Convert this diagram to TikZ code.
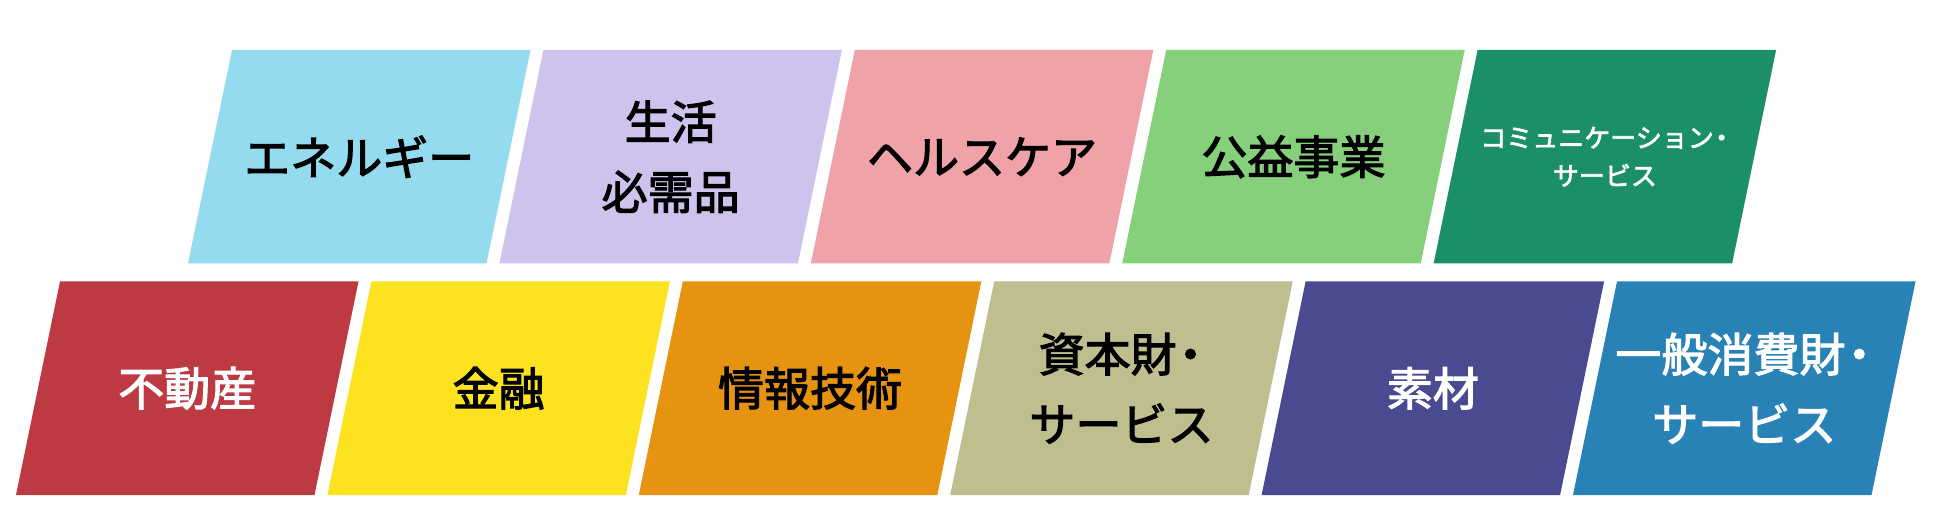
\documentclass[tikz,border=0pt]{standalone}
\usepackage{fontspec}
\setmainfont{Noto Sans CJK JP}[RawFeature={embolden=2.5}]
\definecolor{cEnergy}{HTML}{95DBEF}
\definecolor{cStaples}{HTML}{CDC3EC}
\definecolor{cHealth}{HTML}{EFA3A8}
\definecolor{cUtil}{HTML}{86D07C}
\definecolor{cComm}{HTML}{1B9066}
\definecolor{cReal}{HTML}{BE3A43}
\definecolor{cFin}{HTML}{FDE21F}
\definecolor{cIT}{HTML}{E59311}
\definecolor{cInd}{HTML}{BFBE8E}
\definecolor{cMat}{HTML}{4A4A90}
\definecolor{cDisc}{HTML}{2882B5}
\newcommand\nakaguro{\makebox[0.6em]{・}}
\tikzset{
  lbl/.style={font=\fontsize{46}{70}\selectfont, align=center, inner sep=0pt},
  smalllbl/.style={font=\fontsize{26}{38}\selectfont, align=center, inner sep=0pt},
}
% #1 name, #2 top-left x, #3 top y, #4 fill, #5 text colour, #6 label style, #7 text
\newcommand\secbox[7]{%
  \fill[#4] (#2,#3) -- ++(298.5,0) -- ++(-44,213.5) -- ++(-298.5,0) -- cycle;
  \node[#6,text=#5] (#1) at ({#2+127.25},{#3+106.75}) {#7};
}
\begin{document}
\begin{tikzpicture}[x=1pt,y=-1pt]
\useasboundingbox[fill=white] (0,0) rectangle (1950,518);
% top row
\secbox{energy}{232}{50}{cEnergy}{black}{lbl}{エネルギー}
\secbox{staples}{543.4}{50}{cStaples}{black}{lbl}{生活\\必需品}
\secbox{health}{854.8}{50}{cHealth}{black}{lbl}{ヘルスケア}
\secbox{util}{1166.2}{50}{cUtil}{black}{lbl}{公益事業}
\secbox{comm}{1477.6}{50}{cComm}{white}{smalllbl}{コミュニケーション\nakaguro\\サービス}
% bottom row
\secbox{real}{60}{281.5}{cReal}{white}{lbl}{不動産}
\secbox{fin}{371.4}{281.5}{cFin}{black}{lbl}{金融}
\secbox{it}{682.8}{281.5}{cIT}{black}{lbl}{情報技術}
\secbox{ind}{994.2}{281.5}{cInd}{black}{lbl}{資本財\nakaguro\\サービス}
\secbox{mat}{1305.6}{281.5}{cMat}{white}{lbl}{素材}
\secbox{disc}{1617}{281.5}{cDisc}{white}{lbl}{一般消費財\nakaguro\\サービス}
\end{tikzpicture}
\end{document}
